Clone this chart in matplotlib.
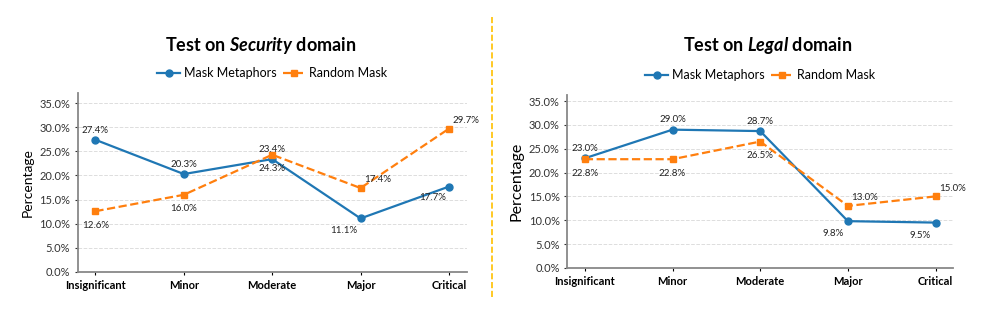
import matplotlib
matplotlib.use('Agg')
import matplotlib.pyplot as plt
from matplotlib.ticker import PercentFormatter

plt.rcParams['font.family'] = ['Lato', 'DejaVu Sans']
plt.rcParams['mathtext.fontset'] = 'custom'
plt.rcParams['mathtext.bfit'] = 'Lato:italic:bold'
plt.rcParams['mathtext.rm'] = 'Lato:bold'

levels = ['Insignificant', 'Minor', 'Moderate', 'Major', 'Critical']

# Security domain
sec_mask = [27.4, 20.3, 23.4, 11.1, 17.7]
sec_random = [12.6, 16.0, 24.3, 17.4, 29.7]

# Legal domain
legal_mask = [23.0, 29.0, 28.7, 9.8, 9.5]
legal_random = [22.8, 22.8, 26.5, 13.0, 15.0]

# label offsets (points) for each point: mask above/below, random below/above
sec_mask_off = [(0, 7), (0, 7), (0, 7), (-12, -9), (-12, -8)]
sec_rand_off = [(0, -10), (0, -10), (0, -10), (12, 6), (12, 6)]
legal_mask_off = [(0, 7), (0, 7), (0, 7), (-11, -9), (-11, -9)]
legal_rand_off = [(0, -10), (0, -10), (0, -10), (12, 6), (12, 6)]

BLUE = '#1f77b4'
ORANGE = '#ff7f0e'

fig = plt.figure(figsize=(9.97, 3.17), dpi=100)
ax1 = fig.add_axes([0.078, 0.142, 0.39, 0.565])
ax2 = fig.add_axes([0.569, 0.155, 0.387, 0.545])


def draw(ax, mask, rand, mask_off, rand_off, title_name, title_x, legend_y, ylab_size):
    x = list(range(len(levels)))
    ax.plot(x, mask, marker='o', markersize=5, color=BLUE, linewidth=1.6,
            label='Mask Metaphors')
    ax.plot(x, rand, marker='s', markersize=5, color=ORANGE, linewidth=1.6,
            linestyle='--', label='Random Mask')
    for i in x:
        ax.annotate(f'{mask[i]:.1f}%', (i, mask[i]), textcoords='offset points',
                    xytext=mask_off[i], ha='center', va='center', fontsize=7,
                    color='#222222')
        ax.annotate(f'{rand[i]:.1f}%', (i, rand[i]), textcoords='offset points',
                    xytext=rand_off[i], ha='center', va='center', fontsize=7,
                    color='#222222')
    ax.set_ylim(0, max(max(mask), max(rand)) * 1.25)
    ax.set_yticks([0, 5, 10, 15, 20, 25, 30, 35])
    ax.yaxis.set_major_formatter(PercentFormatter(decimals=1))
    ax.set_xticks(x)
    ax.set_xticklabels(levels, fontweight='bold', fontsize=8)
    ax.tick_params(axis='y', labelsize=8, length=2, colors='#333333')
    ax.tick_params(axis='x', length=2)
    ax.set_ylabel('Percentage', fontsize=ylab_size)
    ax.grid(axis='y', linestyle='--', color='#dddddd', linewidth=0.7)
    ax.set_axisbelow(True)
    for s in ['top', 'right']:
        ax.spines[s].set_visible(False)
    for s in ['left', 'bottom']:
        ax.spines[s].set_color('#888888')
        ax.spines[s].set_linewidth(1.3)
    fig.text(title_x, 0.858, f'Test on $\\mathbfit{{{title_name}}}$ domain',
             ha='center', va='center', fontsize=13, fontweight='bold')
    ax.legend(loc='center', bbox_to_anchor=(0.5, legend_y), ncol=2, frameon=False,
              fontsize=9, handlelength=1.8, columnspacing=0.5, handletextpad=0.3,
              borderaxespad=0)


draw(ax1, sec_mask, sec_random, sec_mask_off, sec_rand_off, 'Security', 0.261, 1.11, 10)
draw(ax2, legal_mask, legal_random, legal_mask_off, legal_rand_off, 'Legal', 0.77, 1.115, 11.5)

fig.add_artist(plt.Line2D([0.4935, 0.4935], [0.063, 0.953], transform=fig.transFigure,
                          color='#ffc000', linestyle='--', linewidth=1.2))

fig.savefig('out.png', dpi=100)
